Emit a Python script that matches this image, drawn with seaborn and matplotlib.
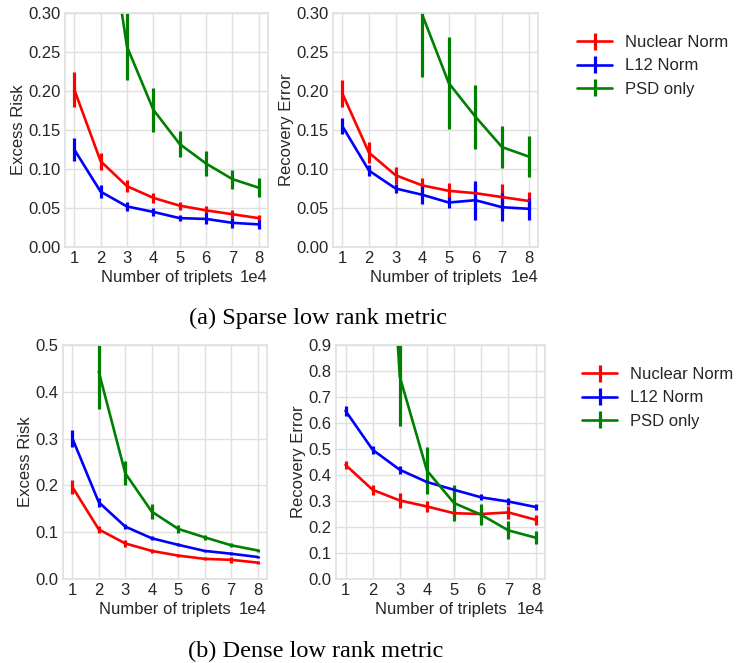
import numpy as np
import matplotlib
matplotlib.use("Agg")
import matplotlib.pyplot as plt
import seaborn as sns

nan = np.nan
triplets = [10000, 20000, 30000, 40000, 50000, 60000, 70000, 80000]
methods = ["Nuclear Norm", "L12 Norm", "PSD only"]
colors = ["red", "blue", "green"]

# (a) Sparse low rank metric
sparse_risk_nuc = [0.202, 0.110, 0.078, 0.063, 0.053, 0.047, 0.042, 0.037]
sparse_risk_nuc_err = [0.023, 0.011, 0.008, 0.006, 0.005, 0.005, 0.005, 0.004]
sparse_risk_l12 = [0.125, 0.071, 0.052, 0.045, 0.037, 0.036, 0.031, 0.029]
sparse_risk_l12_err = [0.015, 0.008, 0.006, 0.005, 0.004, 0.007, 0.006, 0.006]
sparse_risk_psd = [nan, 0.48, 0.257, 0.176, 0.132, 0.107, 0.087, 0.076]
sparse_risk_psd_err = [nan, 0.06, 0.043, 0.028, 0.017, 0.016, 0.012, 0.012]

sparse_rec_nuc = [0.197, 0.121, 0.092, 0.079, 0.072, 0.069, 0.064, 0.059]
sparse_rec_nuc_err = [0.017, 0.013, 0.011, 0.010, 0.010, 0.012, 0.017, 0.011]
sparse_rec_l12 = [0.155, 0.098, 0.075, 0.067, 0.057, 0.060, 0.051, 0.049]
sparse_rec_l12_err = [0.010, 0.007, 0.006, 0.012, 0.007, 0.025, 0.018, 0.014]
sparse_rec_psd = [nan, nan, nan, 0.298, 0.210, 0.167, 0.128, 0.116]
sparse_rec_psd_err = [nan, nan, nan, 0.08, 0.059, 0.041, 0.027, 0.026]

# (b) Dense low rank metric
dense_risk_nuc = [0.197, 0.106, 0.076, 0.060, 0.050, 0.043, 0.041, 0.035]
dense_risk_nuc_err = [0.015, 0.007, 0.007, 0.004, 0.004, 0.003, 0.007, 0.003]
dense_risk_l12 = [0.301, 0.164, 0.112, 0.087, 0.073, 0.060, 0.054, 0.047]
dense_risk_l12_err = [0.018, 0.010, 0.006, 0.004, 0.003, 0.003, 0.003, 0.003]
dense_risk_psd = [nan, 0.443, 0.226, 0.144, 0.107, 0.089, 0.072, 0.061]
dense_risk_psd_err = [nan, 0.08, 0.026, 0.016, 0.009, 0.006, 0.004, 0.003]

dense_rec_nuc = [0.439, 0.343, 0.302, 0.279, 0.253, 0.250, 0.256, 0.228]
dense_rec_nuc_err = [0.015, 0.018, 0.027, 0.020, 0.012, 0.012, 0.025, 0.020]
dense_rec_l12 = [0.647, 0.497, 0.420, 0.373, 0.343, 0.314, 0.298, 0.277]
dense_rec_l12_err = [0.020, 0.015, 0.015, 0.006, 0.012, 0.012, 0.015, 0.010]
dense_rec_psd = [nan, 2.5, 0.778, 0.417, 0.292, 0.247, 0.187, 0.159]
dense_rec_psd_err = [nan, 0.2, 0.19, 0.09, 0.07, 0.04, 0.035, 0.025]

sns.set_theme(style="whitegrid", context="notebook")
plt.rcParams["font.family"] = ["Liberation Sans", "DejaVu Sans"]
plt.rcParams.update({
    "axes.edgecolor": "#e0e0e0",
    "grid.color": "#e0e0e0",
    "axes.labelsize": 12,
    "xtick.labelsize": 12,
    "ytick.labelsize": 12,
    "legend.fontsize": 12,
    "text.color": ".15",
    "axes.labelcolor": ".15",
    "xtick.color": ".15",
    "ytick.color": ".15",
})

fig = plt.figure(figsize=(7.36, 6.63), dpi=100)
W, H = 736.0, 663.0

def add_ax(l, r, t, b):
    return fig.add_axes([l / W, 1 - b / H, (r - l) / W, (b - t) / H])

ax1 = add_ax(65, 268, 13, 247)
ax2 = add_ax(333, 538, 13, 247)
ax3 = add_ax(63, 267, 345, 579)
ax4 = add_ax(336, 545, 345, 579)

panels = [
    (ax1, [sparse_risk_nuc, sparse_risk_l12, sparse_risk_psd],
     [sparse_risk_nuc_err, sparse_risk_l12_err, sparse_risk_psd_err],
     "Excess Risk", 0.30, np.arange(0, 0.301, 0.05), "%.2f"),
    (ax2, [sparse_rec_nuc, sparse_rec_l12, sparse_rec_psd],
     [sparse_rec_nuc_err, sparse_rec_l12_err, sparse_rec_psd_err],
     "Recovery Error", 0.30, np.arange(0, 0.301, 0.05), "%.2f"),
    (ax3, [dense_risk_nuc, dense_risk_l12, dense_risk_psd],
     [dense_risk_nuc_err, dense_risk_l12_err, dense_risk_psd_err],
     "Excess Risk", 0.5, np.arange(0, 0.501, 0.1), "%.1f"),
    (ax4, [dense_rec_nuc, dense_rec_l12, dense_rec_psd],
     [dense_rec_nuc_err, dense_rec_l12_err, dense_rec_psd_err],
     "Recovery Error", 0.9, np.arange(0, 0.901, 0.1), "%.1f"),
]

for ax, ys, errs, ylabel, ymax, yt, fmt in panels:
    for y, e, c, lab in zip(ys, errs, colors, methods):
        ax.errorbar(triplets, y, yerr=e, color=c, lw=1.9, elinewidth=2.3,
                    capsize=0, label=lab)
    ax.set_ylim(0, ymax)
    ax.set_yticks(yt)
    ax.yaxis.set_major_formatter(matplotlib.ticker.FormatStrFormatter(fmt))
    ax.set_xticks(triplets)
    ax.ticklabel_format(axis="x", style="sci", scilimits=(0, 0))
    ax.set_xlabel("Number of triplets", labelpad=3)
    ax.set_ylabel(ylabel, labelpad=2)
    ax.tick_params(axis="both", length=0, pad=3)
    for s in ax.spines.values():
        s.set_color("#e0e0e0")

h, l = ax2.get_legend_handles_labels()
fig.legend(h, l, loc="upper left", bbox_to_anchor=(562 / W, 1 - 20 / H),
           frameon=False, handlelength=2.1)
h, l = ax4.get_legend_handles_labels()
fig.legend(h, l, loc="upper left", bbox_to_anchor=(567 / W, 1 - 352 / H),
           frameon=False, handlelength=2.1)

fig.text(318 / W, 1 - 318 / H, "(a) Sparse low rank metric", ha="center",
         va="center", family=["Liberation Serif", "DejaVu Serif"], fontsize=17.5,
         color="black")
fig.text(316 / W, 1 - 651 / H, "(b) Dense low rank metric", ha="center",
         va="center", family=["Liberation Serif", "DejaVu Serif"], fontsize=17.5,
         color="black")

fig.savefig("out.png", dpi=100)
